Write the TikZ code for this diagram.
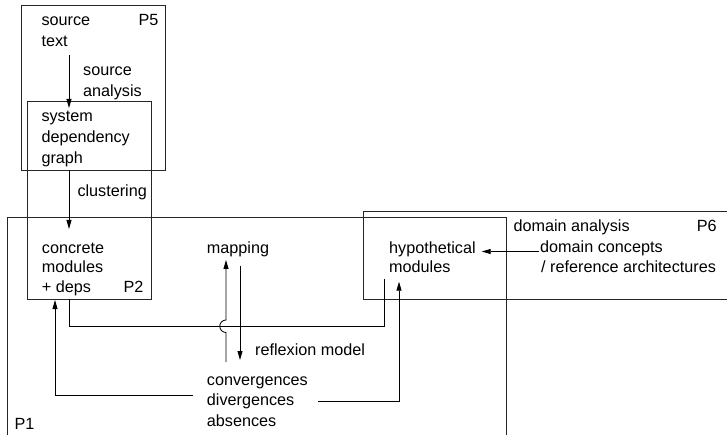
\documentclass[tikz,border=0pt]{standalone}
\usepackage{fontspec}
\setmainfont{Liberation Sans}
\usetikzlibrary{arrows.meta}
\begin{document}
\begin{tikzpicture}[x=1pt,y=-1pt,
  lbl/.style={anchor=base west,inner sep=0pt,font=\fontsize{16.2}{19}\selectfont},
  frame/.style={draw=black!85,line width=0.9pt},
  conn/.style={draw,line width=0.8pt},
  arr/.style={conn,-{Triangle[length=9pt,width=5pt]}}]
\useasboundingbox (0,0) rectangle (727,435);

% process frames
\draw[frame] (21,5) rectangle (165.7,170);                       % P5
\draw[frame] (27.7,101) rectangle (151,299.3);                   % P2
\draw[frame] (7,435) -- (7,217.7) -- (506.7,217.7) -- (506.7,435); % P1
\draw[frame] (727,211) -- (363.3,211) -- (363.3,299) -- (727,299); % P6

% texts
\node[lbl] (src)  at (41.3,26)  {source};
\node[lbl]        at (41.3,46.7) {text};
\node[lbl] (p5)   at (138.3,26) {P5};
\node[lbl] (sa)   at (83,76)    {source};
\node[lbl]        at (83,96.7)  {analysis};
\node[lbl] (sdg)  at (41.3,122) {system};
\node[lbl]        at (41.3,143) {dependency};
\node[lbl]        at (41.3,164) {graph};
\node[lbl] (clu)  at (77.3,196.7) {clustering};
\node[lbl] (cm)   at (41.7,253.3) {concrete};
\node[lbl]        at (41.7,272.3) {modules};
\node[lbl]        at (41.7,292.7) {+ deps};
\node[lbl] (p2)   at (123.3,292.7) {P2};
\node[lbl] (map)  at (206.7,253.3) {mapping};
\node[lbl] (rm)   at (255,355)  {reflexion model};
\node[lbl] (conv) at (206.7,385) {convergences};
\node[lbl] (div)  at (206.7,405.3) {divergences};
\node[lbl] (abs)  at (206.7,426.3) {absences};
\node[lbl] (p1)   at (14.3,429) {P1};
\node[lbl] (hyp)  at (389,253.3) {hypothetical};
\node[lbl]        at (389,272.7) {modules};
\node[lbl] (da)   at (513.3,231.7) {domain analysis};
\node[lbl] (p6)   at (696.7,231.7) {P6};
\node[lbl] (dc)   at (540,252.5) {domain concepts};
\node[lbl] (ra)   at (541,272.5) {/ reference architectures};

% connector end points
\coordinate (srcout)  at (69,55);
\coordinate (sdgin)   at (69,108);
\coordinate (sdgout)  at (69,170);
\coordinate (cmin)    at (69,229);
\coordinate (cmout)   at (69,299.3);
\coordinate (cmback)  at (55,300);
\coordinate (mapin)   at (226,260);
\coordinate (mapup)   at (226,362);
\coordinate (mapout)  at (240,265.7);
\coordinate (convin)  at (240,360);
\coordinate (divl)    at (192.7,395);
\coordinate (divr)    at (318,401.7);
\coordinate (hypin)   at (399,281.7);
\coordinate (hypcm)   at (384,279);
\coordinate (dcout)   at (539,251.5);
\coordinate (hypdc)   at (481.7,251.5);

% connectors
\draw[arr] (srcout) -- (sdgin);
\draw[arr] (sdgout) -- (cmin);
\draw[conn] (cmout) |- (384,326.5) -- (hypcm);
\draw[arr] (mapup) -- (226,332.5)
   arc[start angle=90,end angle=270,radius=6.25] -- (mapin);
\draw[arr] (mapout) -- (convin);
\draw[arr] (divl) -| (cmback);
\draw[arr] (divr) -| (hypin);
\draw[arr] (dcout) -- (hypdc);
\end{tikzpicture}
\end{document}
